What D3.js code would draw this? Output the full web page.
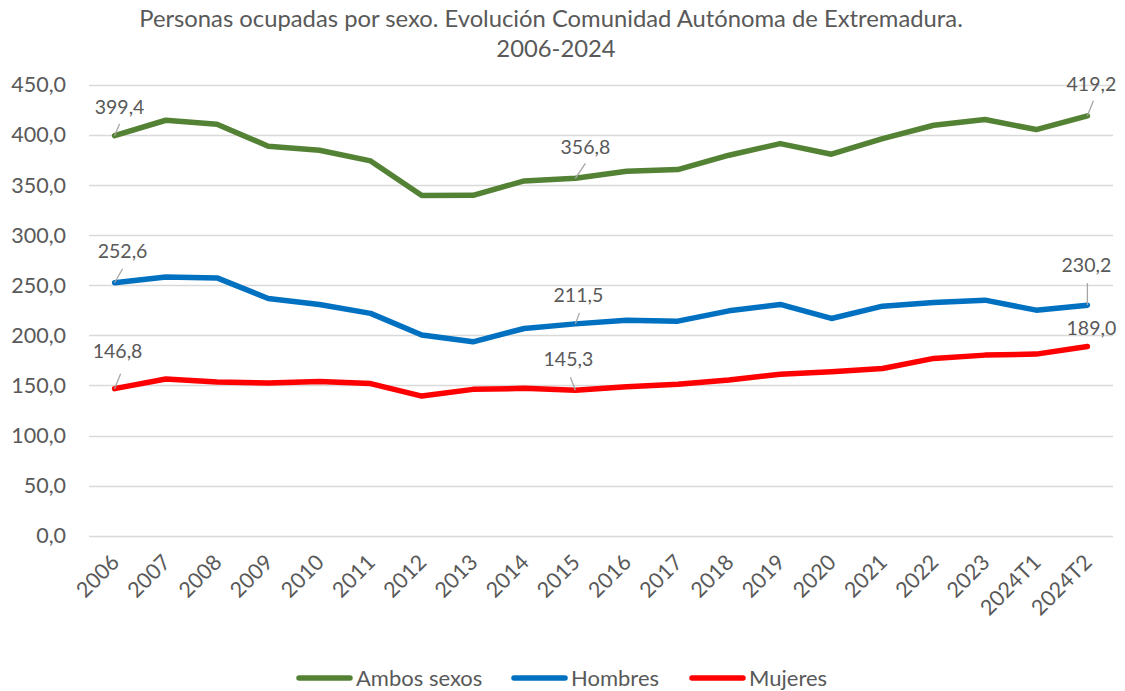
<!DOCTYPE html>
<html>
<head>
<meta charset="utf-8">
<script src="https://cdn.jsdelivr.net/npm/d3@7"></script>
<style>
  body { margin: 0; background: #fff; }
  svg { display: block; font-family: Lato, "Open Sans", sans-serif; }
</style>
</head>
<body>
<svg id="chart" width="1125" height="691"></svg>
<script>
// categories and series
const periods = ["2006","2007","2008","2009","2010","2011","2012","2013","2014","2015",
  "2016","2017","2018","2019","2020","2021","2022","2023","2024T1","2024T2"];
const ambos = [399.4,414.8,410.8,388.9,384.9,374.2,339.7,339.8,354.2,356.8,
  363.9,365.6,379.9,391.5,380.9,396.5,409.8,415.5,405.5,419.2];
const hombres = [252.6,258.4,257.4,236.9,230.9,222.0,200.3,193.6,206.9,211.5,
  215.2,214.2,224.5,230.9,216.9,229.2,232.9,235.2,225.2,230.2];
const mujeres = [146.8,156.4,153.4,152.4,153.9,151.9,139.4,146.1,147.1,145.3,
  148.7,151.2,155.4,161.3,163.6,167.0,177.0,180.3,181.3,189.0];
const yTicks = [0,50,100,150,200,250,300,350,400,450];

const series = [
  { name: "Ambos sexos", values: ambos, color: "#548235" },
  { name: "Hombres", values: hombres, color: "#0070C0" },
  { name: "Mujeres", values: mujeres, color: "#FF0000" }
];

// labelled points: series index, point index, label offset, leader end
const callouts = [
  { s: 0, i: 0, dx: 5, dy: -22, lx: 5, ly: -12 },
  { s: 0, i: 9, dx: 10, dy: -24, lx: 10, ly: -15 },
  { s: 0, i: 19, dx: 4, dy: -25, lx: 6, ly: -15 },
  { s: 1, i: 0, dx: 8, dy: -25, lx: 8, ly: -14 },
  { s: 1, i: 9, dx: 3, dy: -22, lx: 4, ly: -11 },
  { s: 1, i: 19, dx: -1, dy: -33, lx: 0, ly: -22 },
  { s: 2, i: 0, dx: 3, dy: -31, lx: 6, ly: -15 },
  { s: 2, i: 9, dx: -7, dy: -24, lx: -5, ly: -13 },
  { s: 2, i: 19, dx: 4, dy: -11, lx: 0, ly: 0 }
];

const svg = d3.select("#chart");
const margin = { left: 89, right: 12, top: 85, bottom: 155 };
const W = 1125, H = 691;
const textColor = "#595959";

const x = d3.scaleBand()
  .domain(periods)
  .range([margin.left, W - margin.right]);
const y = d3.scaleLinear()
  .domain([0, 450])
  .range([H - margin.bottom - 0.3, margin.top]);

const fmt = v => d3.format(".1f")(v).replace(".", ",");
const cx = p => x(p) + x.bandwidth() / 2;

// title
svg.append("text")
  .attr("x", 551).attr("y", 27)
  .attr("text-anchor", "middle")
  .attr("font-size", 23.8).attr("fill", textColor)
  .text("Personas ocupadas por sexo. Evolución Comunidad Autónoma de Extremadura.");
svg.append("text")
  .attr("x", 556).attr("y", 57)
  .attr("text-anchor", "middle")
  .attr("font-size", 23.8).attr("fill", textColor)
  .text("2006-2024");

// gridlines
svg.append("g")
  .selectAll("line")
  .data(yTicks)
  .join("line")
  .attr("x1", margin.left).attr("x2", W - margin.right)
  .attr("y1", d => Math.round(y(d)) + 0.5).attr("y2", d => Math.round(y(d)) + 0.5)
  .attr("stroke", "#d9d9d9").attr("stroke-width", 1.5);

// y axis
const yAxis = svg.append("g")
  .attr("transform", `translate(${margin.left},0)`)
  .call(d3.axisLeft(y).tickValues(yTicks).tickFormat(fmt).tickSize(0).tickPadding(23));
yAxis.select(".domain").remove();
yAxis.selectAll("text")
  .attr("font-family", "Lato, 'Open Sans', sans-serif")
  .attr("font-size", 21.5).attr("fill", textColor);

// x axis
const xAxis = svg.append("g")
  .attr("transform", `translate(0,${y(0)})`)
  .call(d3.axisBottom(x).tickSize(0));
xAxis.select(".domain").remove();
xAxis.selectAll("text")
  .attr("font-family", "Lato, 'Open Sans', sans-serif")
  .attr("font-size", 21.5).attr("fill", textColor)
  .attr("text-anchor", "end")
  .attr("dy", null).attr("y", 0)
  .attr("transform", "translate(6,28) rotate(-45)");

// lines
const line = d3.line()
  .x((d, i) => cx(periods[i]))
  .y(d => y(d));

svg.append("g")
  .selectAll("path")
  .data(series)
  .join("path")
  .attr("d", d => line(d.values))
  .attr("fill", "none")
  .attr("stroke", d => d.color)
  .attr("stroke-width", 5.5)
  .attr("stroke-linejoin", "round")
  .attr("stroke-linecap", "round");

// data labels with leader lines
const cg = svg.append("g");
callouts.forEach(c => {
  const v = series[c.s].values[c.i];
  const px = cx(periods[c.i]), py = y(v);
  if (c.lx !== 0 || c.ly !== 0) {
    cg.append("line")
      .attr("x1", px).attr("y1", py)
      .attr("x2", px + c.lx).attr("y2", py + c.ly)
      .attr("stroke", "#a6a6a6").attr("stroke-width", 1.3);
  }
  cg.append("text")
    .attr("x", px + c.dx).attr("y", py + c.dy)
    .attr("text-anchor", "middle")
    .attr("font-size", 19.5).attr("fill", textColor)
    .text(fmt(v));
});

// legend
const legendX = [297, 512, 690];
const lg = svg.append("g");
series.forEach((s, k) => {
  const g = lg.append("g").attr("transform", `translate(${legendX[k]},678)`);
  g.append("line")
    .attr("x1", 2).attr("x2", 53).attr("y1", 0).attr("y2", 0)
    .attr("stroke", s.color).attr("stroke-width", 5.5)
    .attr("stroke-linecap", "round");
  g.append("text")
    .attr("x", 59).attr("y", 7.5)
    .attr("font-size", 22).attr("fill", textColor)
    .text(s.name);
});
</script>
</body>
</html>
